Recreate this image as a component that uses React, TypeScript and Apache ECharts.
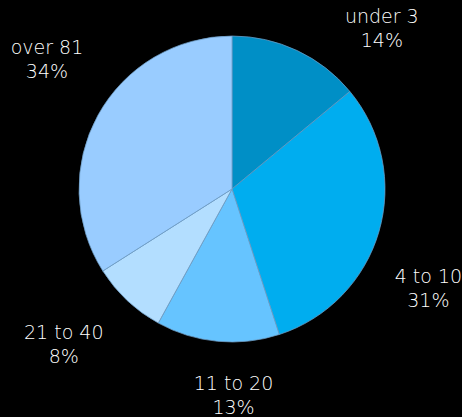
import React, { useEffect, useRef } from "react";
import * as echarts from "echarts";

const categories = ["under 3", "4 to 10", "11 to 20", "21 to 40", "over 81"];
const shares = [14, 31, 13, 8, 34];
const colors = ["#008fc6", "#00adef", "#66c4ff", "#b3deff", "#99ccff"];
const labelOffsets: [number, number][] = [
  [57, 36],
  [-13, 38],
  [22, -11],
  [-19, -4],
  [6, -25],
];

export default function App() {
  const ref = useRef<HTMLDivElement>(null);
  useEffect(() => {
    if (!ref.current) return;
    const chart = echarts.init(ref.current, null, { renderer: "svg" });
    const center = [232, 189];
    chart.setOption({
      animation: false,
      backgroundColor: "#000000",
      series: [
        {
          type: "pie",
          center,
          radius: [0, 153],
          startAngle: 90,
          clockwise: true,
          silent: true,
          label: { show: false },
          labelLine: { show: false },
          itemStyle: { borderColor: "#6d9cc4", borderWidth: 0.75 },
          data: categories.map((name, i) => ({
            name,
            value: shares[i],
            itemStyle: { color: colors[i] },
          })),
        },
        {
          type: "pie",
          center,
          radius: [200, 230],
          startAngle: 90,
          clockwise: true,
          silent: true,
          labelLine: { show: false },
          itemStyle: { color: "transparent", borderWidth: 0 },
          label: {
            show: true,
            position: "inside",
            color: "#ffffff",
            fontFamily: "DejaVu Sans",
            fontWeight: 200,
            fontSize: 19,
            lineHeight: 24,
            align: "center",
            formatter: (p: any) => `${p.name}\n${p.value}%`,
          },
          data: categories.map((name, i) => ({
            name,
            value: shares[i],
            label: { offset: labelOffsets[i] },
          })),
        },
      ],
    });
    return () => chart.dispose();
  }, []);
  return (
    <div
      ref={ref}
      style={{ position: "fixed", left: 0, top: 0, width: 462, height: 417 }}
    />
  );
}
